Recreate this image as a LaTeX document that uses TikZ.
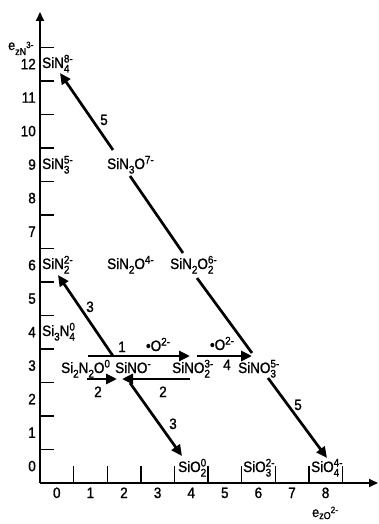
\documentclass[tikz,border=0pt]{standalone}
\usepackage{fontspec}
\setmainfont{Liberation Sans}[FakeStretch=0.9, FakeBold=1.2]
\usetikzlibrary{arrows.meta}
\newcommand\subfont{\fontsize{11}{11}\selectfont}
\newcommand\sbx[1]{\raisebox{-4.5pt}{\subfont #1}}
\newcommand\spx[1]{\raisebox{5.5pt}{\subfont #1}}
\newcommand\sbsp[2]{\mbox{\setbox0=\hbox{\subfont #1}\setbox2=\hbox{\subfont #2}\ifdim\wd0>\wd2 \wd2=\wd0 \else \wd0=\wd2 \fi\rlap{\raisebox{-4.5pt}{\box0}}\raisebox{5.5pt}{\box2}}}
\tikzset{
  every node/.style={font=\fontsize{15}{15}\selectfont, inner sep=0pt},
  lab/.style={anchor=base west},
  num/.style={anchor=base},
  ynum/.style={anchor=base east},
  arr/.style={line width=2.7pt, -{Triangle[length=11pt,width=10pt]}},
  seg/.style={line width=2.7pt},
  axis/.style={line width=1.8pt, -{Triangle[length=9pt,width=8pt]}},
  tick/.style={line width=1.4pt},
}
\begin{document}
\begin{tikzpicture}[x=1pt,y=-1pt]
\useasboundingbox (0,0) rectangle (378,524);
% axes
\coordinate (O) at (40,483);
\coordinate (ytop) at (40,12);
\coordinate (xend) at (378,483);
\draw[axis] (O) -- (ytop);
\draw[axis] (O) -- (xend);
\foreach \k in {1,...,13} \draw[tick] (40,483-33.5*\k) -- ++(14,0);
\foreach \k in {1,...,9} \draw[tick] (40+33.6*\k,483) -- ++(0,-17);
\foreach \n in {0,...,12} \node[ynum] (y\n) at (36,488-33.5*\n-16.75) {\n};
\foreach \n in {0,...,8} \node[num] (x\n) at (56.8+33.6*\n,498) {\n};
% axis titles
\node[anchor=base west] (ylab) at (8,50) {{\fontsize{14}{14}\selectfont e}\raisebox{-5pt}{\fontsize{10}{10}\selectfont zN\raisebox{7pt}{\fontsize{9}{9}\selectfont 3-}}};
\node[anchor=base west] (xlab) at (312,517) {{\fontsize{14}{14}\selectfont e}\raisebox{-2pt}{\fontsize{10}{10}\selectfont zO\raisebox{6pt}{\fontsize{9}{9}\selectfont 2-}}};
% species
\node[lab] (SiN4) at (42,68) {SiN\sbsp{4}{8-}};
\node[lab] (SiN3) at (42,169) {SiN\sbsp{3}{5-}};
\node[lab] (SiN3O) at (107,169) {SiN\sbx{3}O\spx{7-}};
\node[lab] (SiN2) at (42,269) {SiN\sbsp{2}{2-}};
\node[lab] (SiN2O) at (107,269) {SiN\sbx{2}O\spx{4-}};
\node[lab] (SiN2O2) at (170,269) {SiN\sbx{2}O\sbsp{2}{6-}};
\node[lab] (Si3N4) at (42,336) {Si\sbx{3}N\sbsp{4}{0}};
\node[lab] (Si2N2O) at (61,373) {Si\sbx{2}N\sbx{2}O\spx{0}};
\node[lab] (SiNO) at (115,373) {SiNO\spx{-}};
\node[lab] (SiNO2) at (172,373) {SiNO\sbsp{2}{3-}};
\node[lab] (SiNO3) at (238,373) {SiNO\sbsp{3}{5-}};
\node[lab] (SiO2) at (178,472) {SiO\sbsp{2}{0}};
\node[lab] (SiO3) at (243,472) {SiO\sbsp{3}{2-}};
\node[lab] (SiO4) at (311,472) {SiO\sbsp{4}{4-}};
% arrow end points
\coordinate (a1s) at (88,356);   \coordinate (a1e) at (190,356);
\coordinate (a4s) at (197,356);  \coordinate (a4e) at (252,356);
\coordinate (b2s) at (87,379);   \coordinate (b2e) at (117,379);
\coordinate (c2s) at (190,379);  \coordinate (c2e) at (122,379);
\coordinate (d3s) at (130,383);  \coordinate (d3e) at (182,456);
\coordinate (u3s) at (113,356);  \coordinate (u3e) at (58,275);
\coordinate (f5s) at (268,378);  \coordinate (f5e) at (327,458);
\coordinate (g1) at (252,353);   \coordinate (g2) at (197,278);
\coordinate (g3) at (183,253);   \coordinate (g4) at (130,176);
\coordinate (g5) at (113,150);   \coordinate (g6) at (60,73);
% connectors
\draw[arr] (a1s) -- (a1e);
\draw[arr] (a4s) -- (a4e);
\draw[arr] (b2s) -- (b2e);
\draw[arr] (c2s) -- (c2e);
\draw[arr] (d3s) -- (d3e);
\draw[arr] (u3s) -- (u3e);
\draw[arr] (f5s) -- (f5e);
\draw[seg] (g1) -- (g2);
\draw[seg] (g3) -- (g4);
\draw[arr] (g5) -- (g6);
% connector labels
\node[num] (l1) at (122,352) {1};
\node[num] (lo1) at (158,351) {\textbullet O\spx{2-}};
\node[num] (lo4) at (222,350) {\textbullet O\spx{2-}};
\node[num] (l4) at (227,370) {4};
\node[num] (l2a) at (98,397) {2};
\node[num] (l2b) at (163,397) {2};
\node[num] (l3a) at (173,429) {3};
\node[num] (l3b) at (90,312) {3};
\node[num] (l5a) at (298,410) {5};
\node[num] (l5b) at (104,125) {5};
\end{tikzpicture}
\end{document}
